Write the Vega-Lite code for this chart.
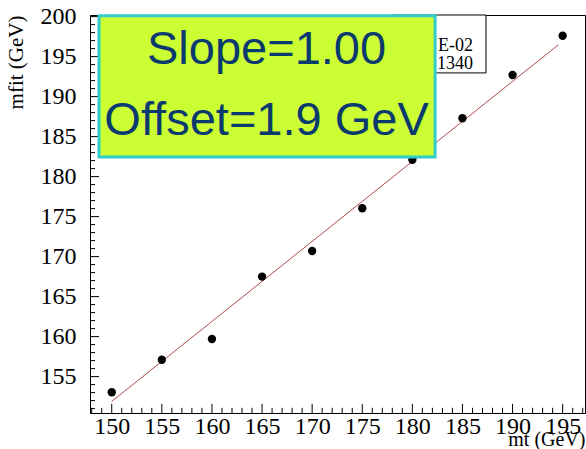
{
  "$schema": "https://vega.github.io/schema/vega-lite/v6.json",
  "width": 495,
  "height": 398,
  "autosize": "none",
  "padding": {"left": 90, "top": 15, "right": 1, "bottom": 36},
  "background": "white",
  "config": {
    "view": {"stroke": "black", "strokeWidth": 1},
    "axis": {
      "grid": false,
      "domainColor": "black",
      "tickColor": "black",
      "labelColor": "black",
      "titleColor": "black",
      "labelFont": "Liberation Serif",
      "titleFont": "Liberation Serif",
      "labelFontSize": 24,
      "titleFontSize": 21,
      "titleFontWeight": "normal"
    }
  },
  "datasets": {
    "pts": [
      {"mt": 150, "mfit": 153.05},
      {"mt": 155, "mfit": 157.1},
      {"mt": 160, "mfit": 159.7},
      {"mt": 165, "mfit": 167.5},
      {"mt": 170, "mfit": 170.7},
      {"mt": 175, "mfit": 176.05},
      {"mt": 180, "mfit": 182.1},
      {"mt": 185, "mfit": 187.3},
      {"mt": 190, "mfit": 192.7},
      {"mt": 195, "mfit": 197.6}
    ],
    "fitline": [
      {"mt": 150, "mfit": 151.9},
      {"mt": 194.6, "mfit": 196.5}
    ],
    "xticks": [
      {"v": 148}, {"v": 149}, {"v": 150}, {"v": 151}, {"v": 152}, {"v": 153}, {"v": 154}, {"v": 155}, {"v": 156}, {"v": 157},
      {"v": 158}, {"v": 159}, {"v": 160}, {"v": 161}, {"v": 162}, {"v": 163}, {"v": 164}, {"v": 165}, {"v": 166}, {"v": 167},
      {"v": 168}, {"v": 169}, {"v": 170}, {"v": 171}, {"v": 172}, {"v": 173}, {"v": 174}, {"v": 175}, {"v": 176}, {"v": 177},
      {"v": 178}, {"v": 179}, {"v": 180}, {"v": 181}, {"v": 182}, {"v": 183}, {"v": 184}, {"v": 185}, {"v": 186}, {"v": 187},
      {"v": 188}, {"v": 189}, {"v": 190}, {"v": 191}, {"v": 192}, {"v": 193}, {"v": 194}, {"v": 195}, {"v": 196}, {"v": 197}
    ],
    "yticks": [
      {"v": 151}, {"v": 152}, {"v": 153}, {"v": 154}, {"v": 155}, {"v": 156}, {"v": 157}, {"v": 158}, {"v": 159}, {"v": 160},
      {"v": 161}, {"v": 162}, {"v": 163}, {"v": 164}, {"v": 165}, {"v": 166}, {"v": 167}, {"v": 168}, {"v": 169}, {"v": 170},
      {"v": 171}, {"v": 172}, {"v": 173}, {"v": 174}, {"v": 175}, {"v": 176}, {"v": 177}, {"v": 178}, {"v": 179}, {"v": 180},
      {"v": 181}, {"v": 182}, {"v": 183}, {"v": 184}, {"v": 185}, {"v": 186}, {"v": 187}, {"v": 188}, {"v": 189}, {"v": 190},
      {"v": 191}, {"v": 192}, {"v": 193}, {"v": 194}, {"v": 195}, {"v": 196}, {"v": 197}, {"v": 198}, {"v": 199}, {"v": 200}
    ],
    "stats": [
      {"mt": 186.06, "mfit": 195.74, "txt": "E-02"},
      {"mt": 186.06, "mfit": 193.41, "txt": "1340"}
    ],
    "note": [
      {"mt": 165.45, "mfit": 194.07, "txt": "Slope=1.00"},
      {"mt": 165.45, "mfit": 185.26, "txt": "Offset=1.9 GeV"}
    ]
  },
  "layer": [
    {
      "data": {"name": "fitline"},
      "mark": {"type": "line", "color": "#b04a4a", "strokeWidth": 1},
      "encoding": {
        "x": {
          "field": "mt", "type": "quantitative",
          "scale": {"domain": [147.83, 197.23], "nice": false, "zero": false},
          "axis": {
            "orient": "bottom",
            "title": "mt   (GeV)",
            "titleAnchor": "end",
            "titleBaseline": "alphabetic",
            "titleY": 32,
            "titleFontSize": 20,
            "values": [150,155,160,165,170,175,180,185,190,195],
            "format": "d",
            "ticks": false,
            "labelPadding": 1,
            "labelFlush": false,
            "labelOverlap": false
          }
        },
        "y": {
          "field": "mfit", "type": "quantitative",
          "scale": {"domain": [150.45, 200.2], "nice": false, "zero": false},
          "axis": {
            "orient": "left",
            "title": "mfit (GeV)",
            "titleAnchor": "end",
            "titlePadding": 14,
            "values": [155,160,165,170,175,180,185,190,195,200],
            "format": "d",
            "ticks": false,
            "labelPadding": 14,
            "labelFlush": false,
            "labelOverlap": false
          }
        }
      }
    },
    {
      "data": {"name": "xticks"},
      "transform": [{"filter": "datum.v % 5 === 0"}],
      "mark": {"type": "rule", "color": "black", "strokeWidth": 1},
      "encoding": {
        "x": {"field": "v", "type": "quantitative"},
        "y": {"datum": 150.45, "type": "quantitative"},
        "y2": {"datum": 151.6}
      }
    },
    {
      "data": {"name": "xticks"},
      "transform": [{"filter": "datum.v % 5 !== 0"}],
      "mark": {"type": "rule", "color": "black", "strokeWidth": 1},
      "encoding": {
        "x": {"field": "v", "type": "quantitative"},
        "y": {"datum": 150.45, "type": "quantitative"},
        "y2": {"datum": 151.1}
      }
    },
    {
      "data": {"name": "yticks"},
      "transform": [{"filter": "datum.v % 5 === 0"}],
      "mark": {"type": "rule", "color": "black", "strokeWidth": 1},
      "encoding": {
        "y": {"field": "v", "type": "quantitative"},
        "x": {"datum": 147.83, "type": "quantitative"},
        "x2": {"datum": 148.73}
      }
    },
    {
      "data": {"name": "yticks"},
      "transform": [{"filter": "datum.v % 5 !== 0"}],
      "mark": {"type": "rule", "color": "black", "strokeWidth": 1},
      "encoding": {
        "y": {"field": "v", "type": "quantitative"},
        "x": {"datum": 147.83, "type": "quantitative"},
        "x2": {"datum": 148.33}
      }
    },
    {
      "data": {"name": "pts"},
      "mark": {"type": "circle", "color": "black", "opacity": 1, "size": 70},
      "encoding": {
        "x": {"field": "mt", "type": "quantitative"},
        "y": {"field": "mfit", "type": "quantitative"}
      }
    },
    {
      "data": {"values": [{}]},
      "mark": {"type": "rect", "fill": "white", "stroke": "black", "strokeWidth": 1},
      "encoding": {
        "x": {"datum": 178, "type": "quantitative"},
        "x2": {"datum": 187.35},
        "y": {"datum": 192.96, "type": "quantitative"},
        "y2": {"datum": 200.2}
      }
    },
    {
      "data": {"name": "stats"},
      "mark": {"type": "text", "font": "Liberation Serif", "fontSize": 18, "align": "right", "baseline": "alphabetic", "color": "black"},
      "encoding": {
        "x": {"field": "mt", "type": "quantitative"},
        "y": {"field": "mfit", "type": "quantitative"},
        "text": {"field": "txt"}
      }
    },
    {
      "data": {"values": [{}]},
      "mark": {"type": "rect", "fill": "#ccff33", "stroke": "#33cccc", "strokeWidth": 3},
      "encoding": {
        "x": {"datum": 148.73, "type": "quantitative"},
        "x2": {"datum": 182.27},
        "y": {"datum": 182.45, "type": "quantitative"},
        "y2": {"datum": 200.1}
      }
    },
    {
      "data": {"name": "note"},
      "mark": {"type": "text", "font": "Liberation Sans", "fontSize": 47, "align": "center", "baseline": "alphabetic", "color": "#0b3a6e"},
      "encoding": {
        "x": {"field": "mt", "type": "quantitative"},
        "y": {"field": "mfit", "type": "quantitative"},
        "text": {"field": "txt"}
      }
    }
  ]
}
